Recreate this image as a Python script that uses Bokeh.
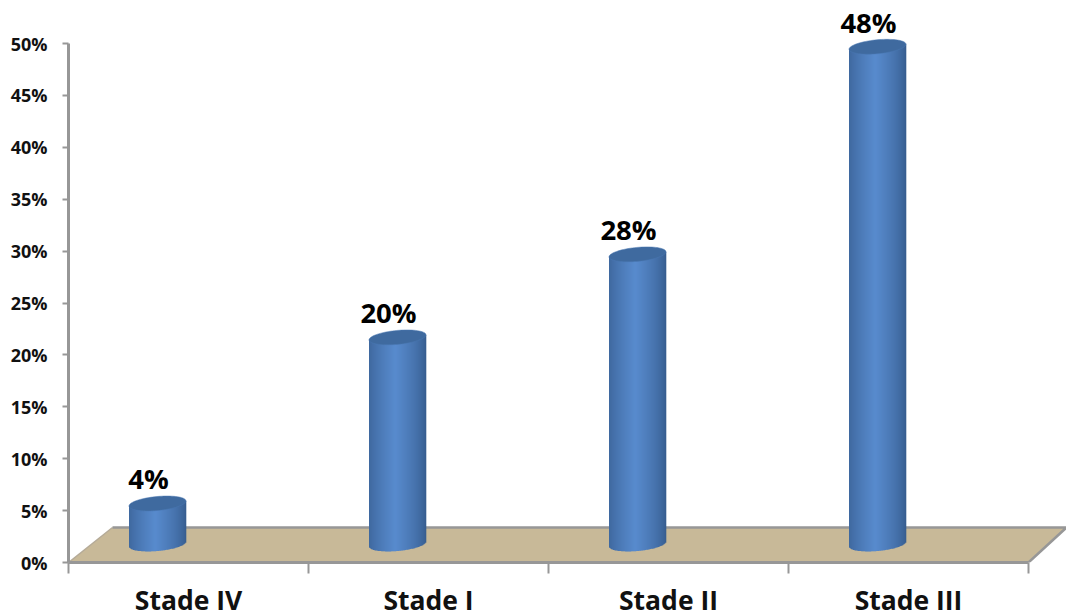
from bokeh.embed import file_html
from bokeh.resources import INLINE
from bokeh.plotting import figure
from bokeh.models import Range1d, LinearAxis, FixedTicker, ColumnDataSource
from bokeh.core.properties import value as fixed
import numpy as np

# Chart data
stages = ["Stade IV", "Stade I", "Stade II", "Stade III"]
shares = [4, 20, 28, 48]
y_ticks = [0, 5, 10, 15, 20, 25, 30, 35, 40, 45, 50]
y_tick_labels = ["0%", "5%", "10%", "15%", "20%", "25%", "30%", "35%", "40%", "45%", "50%"]

# Scale of the plot area
PX_X = 240.0      # pixels per category
PX_Y = 10.38      # pixels per percentage point
FRAME_W, FRAME_H = 998, 562

# Pseudo-3D geometry, in data units
FLOOR_DEPTH = 35.0 / PX_Y
FLOOR_SHIFT = 44.0 / PX_X
FLOOR_SHIFT_R = 38.0 / PX_X
BASE_LIFT = 19.5 / PX_Y       # cylinder base sits in the middle of the floor
BAR_OFFSET = -31.0 / PX_X     # from the category centre
RADIUS = 28.5 / PX_X
ELL_H = 7.0 / PX_Y
TILT = 2.5 / PX_Y
LABEL_OFFSET = -40.0 / PX_X
LABEL_LIFT = 42.0 / PX_Y

AXIS = "#979797"
FONT = "Open Sans"
n_cat = len(stages)

p = figure(width=1066, height=616, output_backend="svg", toolbar_location=None,
           frame_width=FRAME_W, frame_height=FRAME_H,
           x_range=Range1d(0, FRAME_W / PX_X), y_range=Range1d(0, FRAME_H / PX_Y),
           x_axis_location=None, y_axis_location=None,
           min_border_left=68, min_border_right=0, min_border_top=0, min_border_bottom=54,
           outline_line_color=None, background_fill_color="white", border_fill_color="white")
p.xgrid.visible = False
p.ygrid.visible = False

# Value axis
y_axis = LinearAxis(ticker=FixedTicker(ticks=y_ticks), bounds=(0, 50),
                    major_label_overrides=dict(zip(y_ticks, y_tick_labels)))
y_axis.axis_line_color = AXIS
y_axis.axis_line_width = 3
y_axis.major_tick_line_color = AXIS
y_axis.major_tick_line_width = 2
y_axis.major_tick_in = 0
y_axis.major_tick_out = 6
y_axis.minor_tick_line_color = None
y_axis.major_label_standoff = 15
y_axis.major_label_text_font = FONT
y_axis.major_label_text_font_style = "bold"
y_axis.major_label_text_font_size = "18px"
y_axis.major_label_text_color = "#111111"
p.add_layout(y_axis, "left")

# Category axis: separators at the boundaries, names in the middle
centers = [i + 0.5 for i in range(n_cat)]
x_axis = LinearAxis(ticker=FixedTicker(ticks=centers, minor_ticks=list(range(n_cat + 1))),
                    bounds=(0, n_cat),
                    major_label_overrides=dict(zip(centers, stages)))
x_axis.axis_line_color = AXIS
x_axis.axis_line_width = 3
x_axis.major_tick_line_color = None
x_axis.major_tick_in = 0
x_axis.major_tick_out = 0
x_axis.minor_tick_line_color = AXIS
x_axis.minor_tick_line_width = 2
x_axis.minor_tick_in = 0
x_axis.minor_tick_out = 11
x_axis.major_label_standoff = 8
x_axis.major_label_text_font = FONT
x_axis.major_label_text_font_style = "bold"
x_axis.major_label_text_font_size = "26.5px"
x_axis.major_label_text_color = "#111111"
p.add_layout(x_axis, "below")

# Floor plane
p.patch([0, FLOOR_SHIFT, n_cat + FLOOR_SHIFT_R, n_cat],
        [0, FLOOR_DEPTH, FLOOR_DEPTH, 0], fill_color="#c8b998", line_color=None)
p.line([0, FLOOR_SHIFT], [0, FLOOR_DEPTH], line_color="#b5ab98", line_width=1.5)
p.line([FLOOR_SHIFT, n_cat + FLOOR_SHIFT_R, n_cat],
       [FLOOR_DEPTH, FLOOR_DEPTH, 0], line_color=AXIS, line_width=2.5)

# Cylinders: vertical strips give the rounded shading
def shade(t):
    """Colour across the cylinder, t from -1 (left edge) to 1 (right edge)."""
    dark = np.array([0x36, 0x5c, 0x8e])
    light = np.array([0x58, 0x8b, 0xce])
    k = np.clip(1 - abs(t + 0.08) / 1.08, 0, 1) ** 0.7
    r, g, b = dark + (light - dark) * k
    return "#%02x%02x%02x" % (int(r), int(g), int(b))

n_strips = 57
edges = np.linspace(-1, 1, n_strips + 1)
for i, share in enumerate(shares):
    cx = centers[i] + BAR_OFFSET
    base = BASE_LIFT - 1.0 / PX_Y
    top_c = share + BASE_LIFT - 2.0 / PX_Y
    t = (edges[:-1] + edges[1:]) / 2
    curve = ELL_H * np.sqrt(1 - t ** 2)
    slope = TILT * t
    src = ColumnDataSource(dict(
        left=cx + edges[:-1] * RADIUS,
        right=cx + edges[1:] * RADIUS + 0.3 / PX_X,
        bottom=base + slope - curve,
        top=top_c + slope,
        color=[shade(v) for v in t],
    ))
    p.quad(left="left", right="right", bottom="bottom", top="top", source=src,
           fill_color="color", line_color=None)
    theta = np.linspace(0, 2 * np.pi, 80)
    p.patch(cx + RADIUS * np.cos(theta),
            top_c + TILT * np.cos(theta) + ELL_H * np.sin(theta),
            fill_color="#3f6a9f", line_color="#4a78b2", line_width=0.5)
    p.text([centers[i] + LABEL_OFFSET], [share + LABEL_LIFT], text=[f"{share}%"],
           text_font=fixed(FONT), text_font_style="bold", text_font_size="27.5px",
           text_color="black", text_align="center", text_baseline="middle")

open("out.html", "w").write(file_html(p, INLINE))
